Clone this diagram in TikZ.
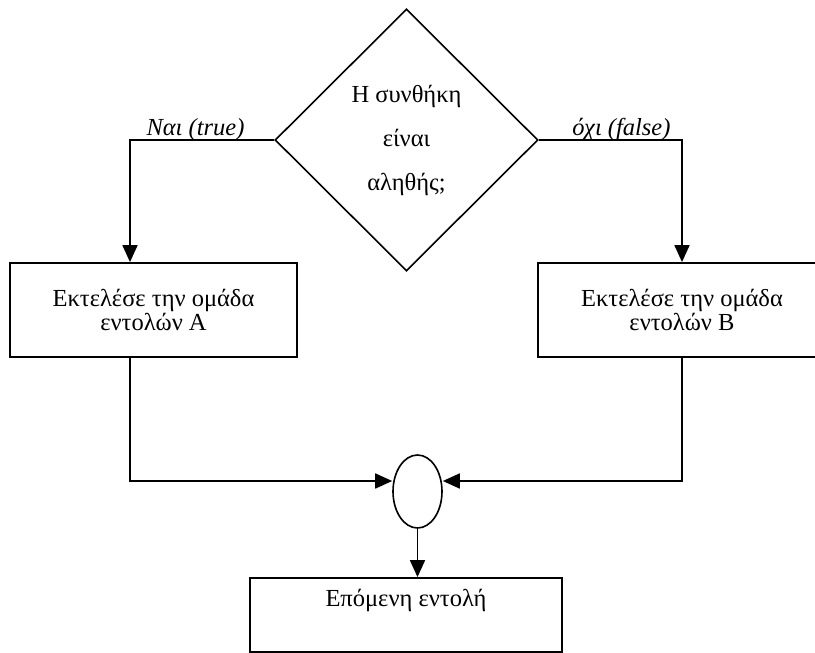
\documentclass[tikz,border=0pt]{standalone}
\usepackage{fontspec}
\setmainfont{Liberation Serif}
\usetikzlibrary{shapes.geometric,arrows.meta}
\tikzset{
  every node/.style={font=\fontsize{24.5}{22.5}\selectfont},
  stepbox/.style={draw, line width=1.8pt, rectangle, inner sep=0pt, align=center},
  decision/.style={draw, line width=1.6pt, diamond, inner sep=0pt, align=center,
     font=\fontsize{24.5}{44}\selectfont},
  joint/.style={draw, line width=1.6pt, ellipse, inner sep=0pt},
  arr/.style={-{Triangle[length=17pt,width=15pt]}, line width=1.8pt},
  lbl/.style={anchor=base, font=\itshape\fontsize{24.5}{22}\selectfont}
}
\begin{document}
\begin{tikzpicture}[x=1pt,y=1pt]
\useasboundingbox (0,0) rectangle (815,-653);
\clip (0,0) rectangle (815,-653);
\node[decision, minimum width=263pt, minimum height=262pt] (cond) at (406.5,-140)
  {Η συνθήκη\\είναι\\αληθής;};
\node[stepbox, minimum width=287pt, minimum height=94pt] (boxa) at (153.5,-310)
  {Εκτελέσε την ομάδα\\εντολών Α};
\node[stepbox, minimum width=288pt, minimum height=94pt] (boxb) at (682,-310)
  {Εκτελέσε την ομάδα\\εντολών Β};
\node[joint, minimum width=49pt, minimum height=73pt] (merge) at (417.5,-491.5) {};
\node[stepbox, minimum width=312pt, minimum height=74pt] (nextbox) at (406,-615) {};
\node[anchor=base] (nexttext) at (406,-606) {Επόμενη εντολή};
\node[lbl] (yes) at (195.5,-135) {Ναι (true)};
\node[lbl] (no) at (621.5,-135) {όχι (false)};
\coordinate (lx) at (130,0);
\coordinate (rx) at (682,0);
\coordinate (jy) at (0,-481);
\draw[arr] (cond.west) -| (lx |- boxa.north);
\draw[arr] (cond.east) -| (rx |- boxb.north);
\draw[arr] (lx |- boxa.south) |- (jy -| merge.west);
\draw[arr] (rx |- boxb.south) |- (jy -| merge.east);
\draw[arr] (merge.south) -- (merge.south |- nextbox.north);
\end{tikzpicture}
\end{document}
